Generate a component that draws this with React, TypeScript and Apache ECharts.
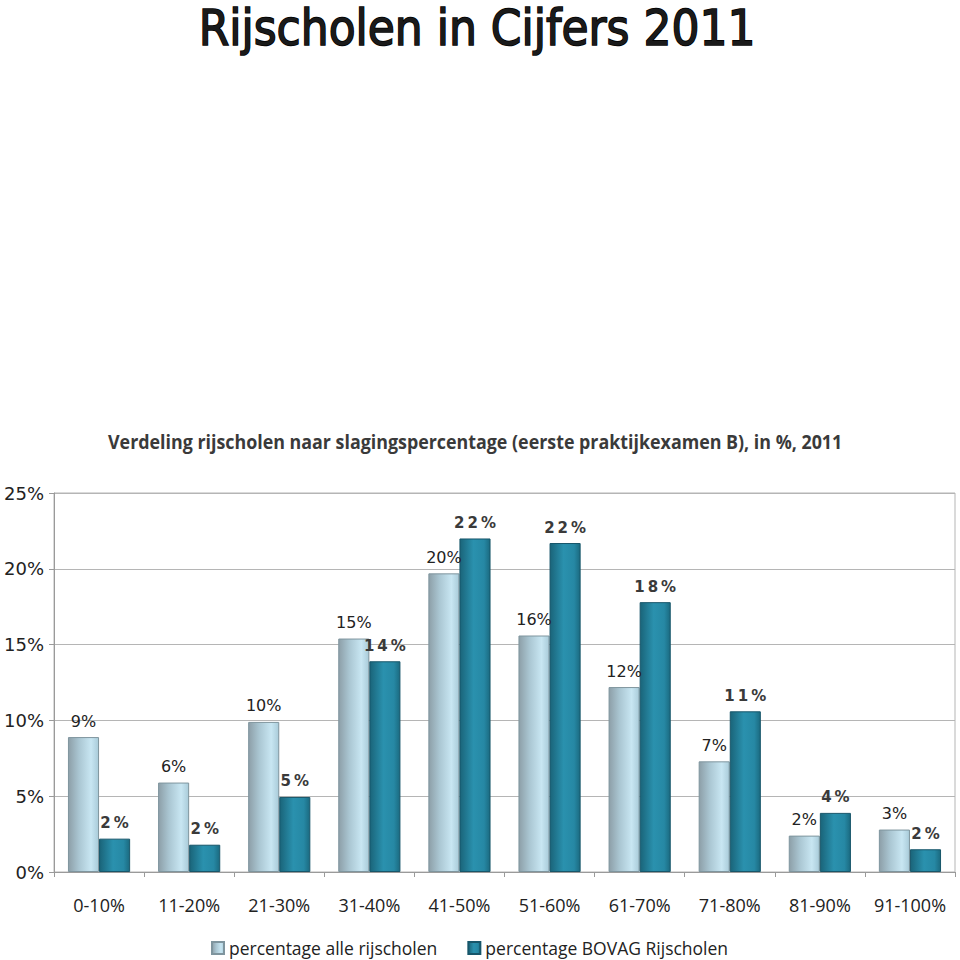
import React, { useEffect, useRef } from "react";
import * as echarts from "echarts";

const categories = ["0-10%", "11-20%", "21-30%", "31-40%", "41-50%", "51-60%", "61-70%", "71-80%", "81-90%", "91-100%"];
const alleValues = [8.9, 5.9, 9.9, 15.4, 19.7, 15.6, 12.2, 7.3, 2.4, 2.8];
const bovagValues = [2.2, 1.8, 4.95, 13.9, 22.0, 21.7, 17.8, 10.6, 3.9, 1.5];
const alleLabels = ["9%", "6%", "10%", "15%", "20%", "16%", "12%", "7%", "2%", "3%"];
const bovagLabels = ["2%", "2%", "5%", "14%", "22%", "22%", "18%", "11%", "4%", "2%"];
const yTicks = [0, 5, 10, 15, 20, 25];
const seriesNames = ["percentage alle rijscholen", "percentage BOVAG Rijscholen"];
const titleText = "Rijscholen in Cijfers 2011";
const subtitleText = "Verdeling rijscholen naar slagingspercentage (eerste praktijkexamen B), in %, 2011";

export default function App() {
  const ref = useRef<HTMLDivElement>(null);
  useEffect(() => {
    if (!ref.current) return;
    const chart = echarts.init(ref.current, null, { renderer: "svg" });
    const lightGrad = new echarts.graphic.LinearGradient(0, 0, 1, 0, [
      { offset: 0, color: "#8d9fa8" },
      { offset: 0.35, color: "#aac6d2" },
      { offset: 0.75, color: "#c8e6f2" },
      { offset: 1, color: "#a9cbd9" },
    ]);
    const darkGrad = new echarts.graphic.LinearGradient(0, 0, 1, 0, [
      { offset: 0, color: "#1a6479" },
      { offset: 0.45, color: "#2a91ae" },
      { offset: 0.8, color: "#2688a4" },
      { offset: 1, color: "#1b6a80" },
    ]);
    chart.setOption({
      animation: false,
      backgroundColor: "#ffffff",
      graphic: [
        {
          type: "text",
          left: 198,
          top: 2,
          scaleX: 0.88,
          style: {
            text: titleText,
            font: "50px 'DejaVu Sans'",
            fill: "#1a1a1a",
            stroke: "#000",
            lineWidth: 1.6,
          },
        },
        {
          type: "text",
          left: 108,
          top: 432,
          scaleX: 0.94,
          style: {
            text: subtitleText,
            font: "bold 19px 'Open Sans'",
            fill: "#3a3a3a",
          },
        },
      ],
      legend: {
        left: 206,
        top: 934,
        itemWidth: 12,
        itemHeight: 12,
        itemGap: 30,
        icon: "rect",
        textStyle: { fontFamily: "Open Sans", fontSize: 17.5, color: "#222" },
        data: seriesNames,
      },
      grid: {
        left: 54,
        right: 5,
        top: 493,
        bottom: 88,
        show: true,
        borderColor: "#b5b5b5",
        borderWidth: 1,
      },
      xAxis: {
        type: "category",
        data: categories,
        axisLine: { lineStyle: { color: "#9a9a9a" } },
        axisTick: { show: true, length: 5, lineStyle: { color: "#9a9a9a" } },
        axisLabel: { fontFamily: "Open Sans", fontSize: 18, color: "#222", margin: 24, interval: 0 },
      },
      yAxis: {
        type: "value",
        min: 0,
        max: 25,
        interval: 5,
        axisLine: { show: true, lineStyle: { color: "#9a9a9a" } },
        axisTick: { show: true, length: 5, lineStyle: { color: "#9a9a9a" } },
        splitLine: { lineStyle: { color: "#b5b5b5" } },
        axisLabel: {
          fontFamily: "DejaVu Sans",
          fontSize: 18,
          color: "#222",
          margin: 10,
          formatter: (v: number) => (yTicks.includes(v) ? v + "%" : ""),
        },
      },
      series: [
        {
          name: seriesNames[0],
          type: "bar",
          data: alleValues,
          barGap: "0%",
          barCategoryGap: "31%",
          itemStyle: { color: lightGrad, borderColor: "#7f959e", borderWidth: 1 },
          label: {
            show: true,
            position: "top",
            distance: 8,
            fontFamily: "DejaVu Sans",
            fontSize: 16,
            color: "#222",
            formatter: (p: any) => alleLabels[p.dataIndex],
          },
        },
        {
          name: seriesNames[1],
          type: "bar",
          data: bovagValues,
          itemStyle: { color: darkGrad, borderColor: "#17566a", borderWidth: 1 },
          label: {
            show: true,
            position: "top",
            distance: 8,
            fontFamily: "DejaVu Sans",
            fontSize: 15,
            fontWeight: "bold",
            color: "#3a3a3a",
            formatter: (p: any) => bovagLabels[p.dataIndex].split("").join("\u2009"),
          },
        },
      ],
    });
    return () => chart.dispose();
  }, []);
  return <div ref={ref} style={{ position: "fixed", left: 0, top: 0, width: 960, height: 960 }} />;
}
